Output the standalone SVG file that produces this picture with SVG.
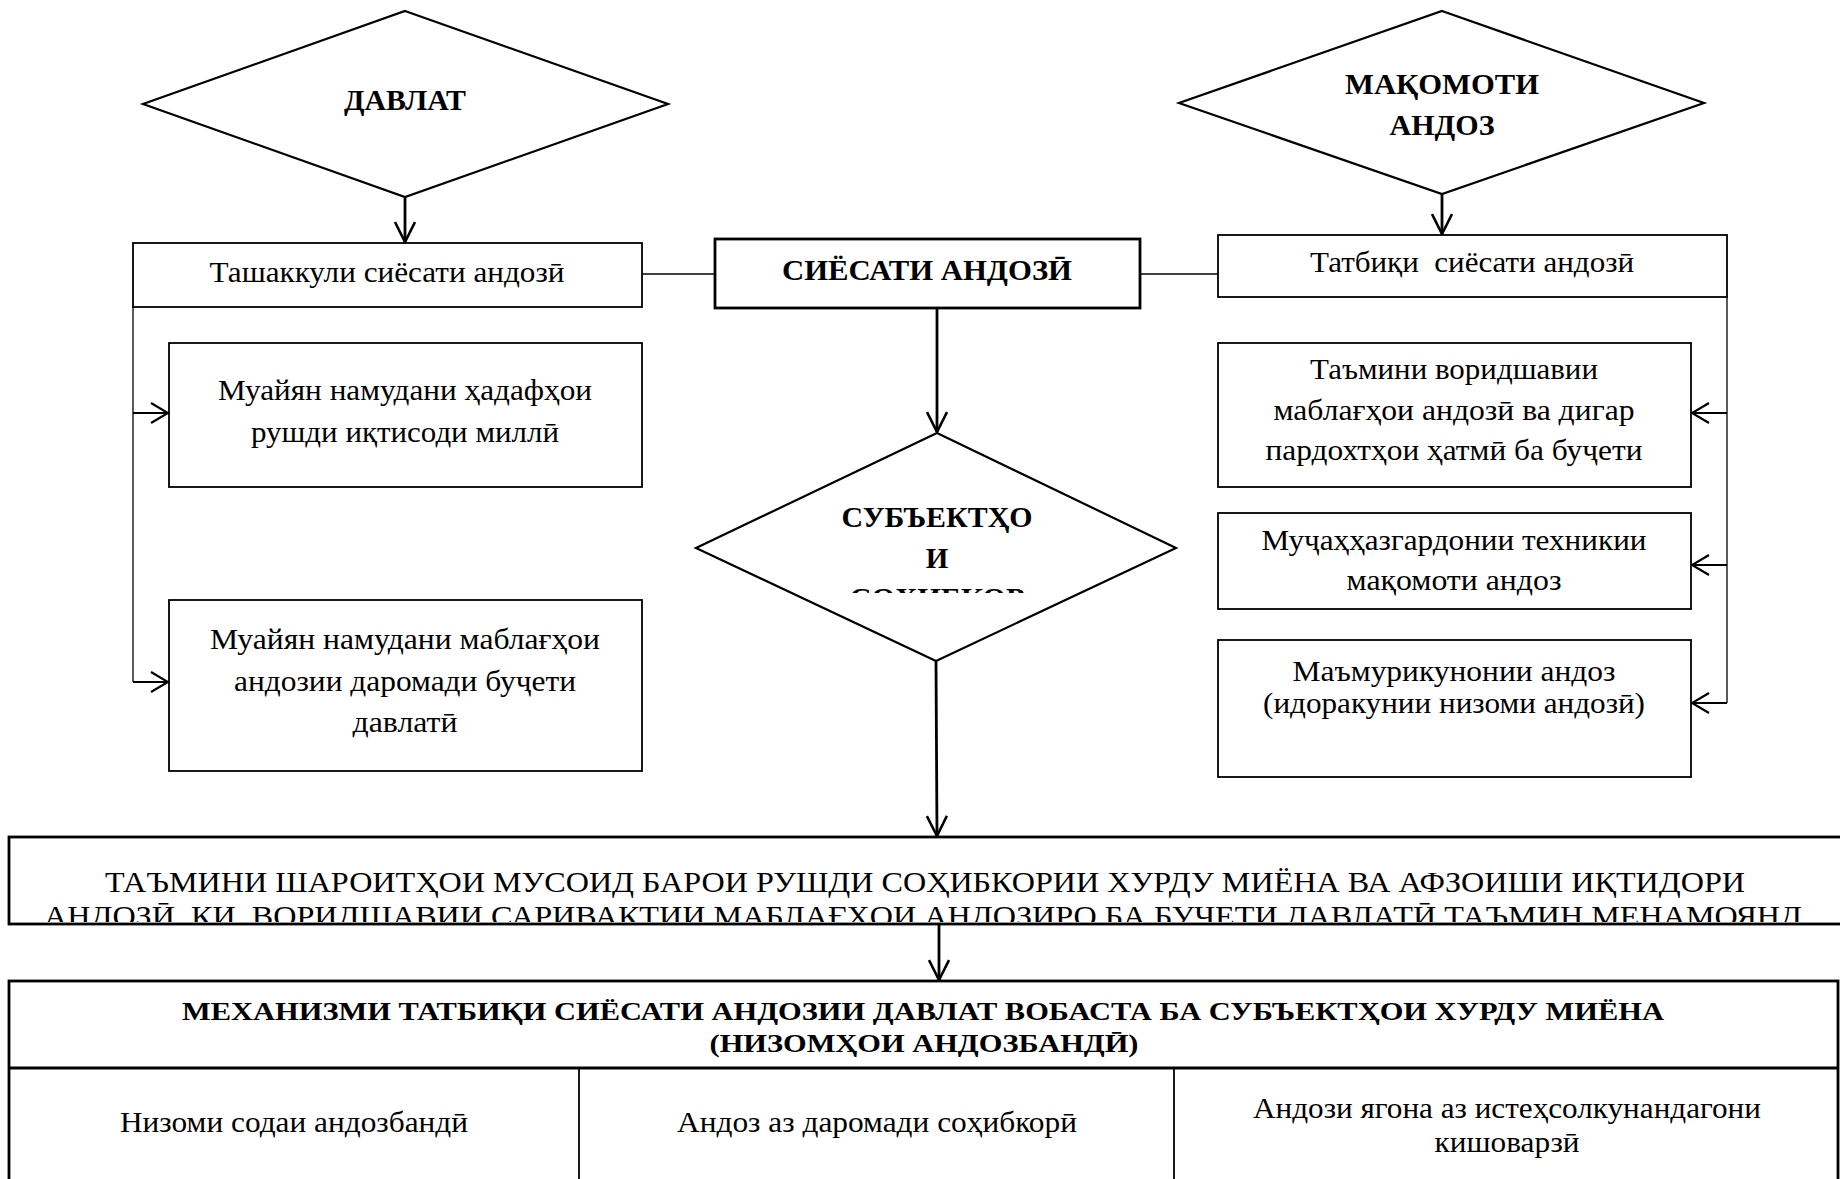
<svg xmlns="http://www.w3.org/2000/svg" width="1840" height="1179" viewBox="0 0 1840 1179">
<style>
text{font-family:"Liberation Serif","Times New Roman",serif;font-size:29px;fill:#000;text-anchor:middle}
.b{font-weight:bold}
.box{fill:#fff;stroke:#000;stroke-width:1.8}
.thick{fill:#fff;stroke:#000;stroke-width:2.8}
.dia{fill:#fff;stroke:#000;stroke-width:2.2}
.thin{fill:none;stroke:#000;stroke-width:1.3}
.arr{fill:none;stroke:#000;stroke-width:2.8}
.side{fill:none;stroke:#000;stroke-width:2}
</style>
<defs>
<marker id="big" viewBox="0 0 22 22" refX="21" refY="11" markerWidth="22" markerHeight="22" markerUnits="userSpaceOnUse" orient="auto">
<path d="M1,1 L21,11 L1,21" fill="none" stroke="#000" stroke-width="2.6"/>
</marker>
<marker id="sm" viewBox="0 0 20 22" refX="18" refY="11" markerWidth="20" markerHeight="22" markerUnits="userSpaceOnUse" orient="auto">
<path d="M1,1 L18,11 L1,21" fill="none" stroke="#000" stroke-width="2.2"/>
</marker>
<clipPath id="cDia"><rect x="696" y="433" width="480" height="160"/></clipPath>
<clipPath id="cWide"><rect x="9" y="837" width="1831" height="85"/></clipPath>
</defs>

<g id="connectors">
<line class="arr" x1="405" y1="197" x2="405" y2="242" marker-end="url(#big)"/>
<line class="arr" x1="1442" y1="194" x2="1442" y2="234" marker-end="url(#big)"/>
<line class="thin" x1="642" y1="274" x2="715" y2="274"/>
<line class="thin" x1="1140" y1="274" x2="1218" y2="274"/>
<line class="arr" x1="937" y1="308" x2="937" y2="432" marker-end="url(#big)"/>
<line class="arr" x1="936" y1="661" x2="937" y2="836" marker-end="url(#big)"/>
<line class="arr" x1="939" y1="924" x2="939" y2="980" marker-end="url(#big)"/>
<polyline class="thin" points="133,307 133,682"/>
<line class="side" x1="133" y1="413" x2="168" y2="413" marker-end="url(#sm)"/>
<line class="side" x1="133" y1="682" x2="168" y2="682" marker-end="url(#sm)"/>
<polyline class="thin" points="1727,297 1727,703"/>
<line class="side" x1="1727" y1="413" x2="1692" y2="413" marker-end="url(#sm)"/>
<line class="side" x1="1727" y1="565" x2="1692" y2="565" marker-end="url(#sm)"/>
<line class="side" x1="1727" y1="703" x2="1692" y2="703" marker-end="url(#sm)"/>
</g>

<g id="davlat">
<polygon class="dia" points="405,11 668,104 405,197 143,104"/>
<text class="b" x="405" y="110" textLength="122" lengthAdjust="spacingAndGlyphs">ДАВЛАТ</text>
</g>

<g id="maqomoti">
<polygon class="dia" points="1442,11 1704,103 1442,194 1179,103"/>
<text class="b" x="1442" y="94" textLength="194" lengthAdjust="spacingAndGlyphs">МАҚОМОТИ</text>
<text class="b" x="1442" y="135" textLength="105" lengthAdjust="spacingAndGlyphs">АНДОЗ</text>
</g>

<g id="tashakkul">
<rect class="box" x="133" y="243" width="509" height="64"/>
<text x="387" y="282" textLength="355" lengthAdjust="spacingAndGlyphs">Ташаккули сиёсати андозӣ</text>
</g>

<g id="siyosat">
<rect class="thick" x="715" y="239" width="425" height="69"/>
<text class="b" x="927" y="280" textLength="290" lengthAdjust="spacingAndGlyphs">СИЁСАТИ АНДОЗӢ</text>
</g>

<g id="tatbiq">
<rect class="box" x="1218" y="235" width="509" height="62"/>
<text x="1472" y="272" textLength="324" lengthAdjust="spacingAndGlyphs" xml:space="preserve">Татбиқи  сиёсати андозӣ</text>
</g>

<g id="hadaf">
<rect class="box" x="169" y="343" width="473" height="144"/>
<text x="405" y="400" textLength="374" lengthAdjust="spacingAndGlyphs">Муайян намудани ҳадафҳои</text>
<text x="405" y="442" textLength="308" lengthAdjust="spacingAndGlyphs">рушди иқтисоди миллӣ</text>
</g>

<g id="mablagh">
<rect class="box" x="169" y="600" width="473" height="171"/>
<text x="405" y="649" textLength="390" lengthAdjust="spacingAndGlyphs">Муайян намудани маблағҳои</text>
<text x="405" y="691" textLength="342" lengthAdjust="spacingAndGlyphs">андозии даромади буҷети</text>
<text x="405" y="732" textLength="105" lengthAdjust="spacingAndGlyphs">давлатӣ</text>
</g>

<g id="subyekt">
<polygon class="dia" points="937,433 1176,548 936,661 696,548"/>
<text class="b" x="937" y="527" textLength="191" lengthAdjust="spacingAndGlyphs">СУБЪЕКТҲО</text>
<text class="b" x="937" y="568">И</text>
<g clip-path="url(#cDia)"><text class="b" x="937" y="608" textLength="175" lengthAdjust="spacingAndGlyphs">СОҲИБКОР</text></g>
</g>

<g id="taminivorid">
<rect class="box" x="1218" y="343" width="473" height="144"/>
<text x="1454" y="379" textLength="288" lengthAdjust="spacingAndGlyphs">Таъмини воридшавии</text>
<text x="1454" y="420" textLength="361" lengthAdjust="spacingAndGlyphs">маблағҳои андозӣ ва дигар</text>
<text x="1454" y="460" textLength="377" lengthAdjust="spacingAndGlyphs">пардохтҳои ҳатмӣ ба буҷети</text>
</g>

<g id="mujahhaz">
<rect class="box" x="1218" y="513" width="473" height="96"/>
<text x="1454" y="550" textLength="385" lengthAdjust="spacingAndGlyphs">Муҷаҳҳазгардонии техникии</text>
<text x="1454" y="590" textLength="215" lengthAdjust="spacingAndGlyphs">мақомоти андоз</text>
</g>

<g id="mamuri">
<rect class="box" x="1218" y="640" width="473" height="137"/>
<text x="1454" y="681" textLength="323" lengthAdjust="spacingAndGlyphs">Маъмурикунонии андоз</text>
<text x="1454" y="713" textLength="382" lengthAdjust="spacingAndGlyphs">(идоракунии низоми андозӣ)</text>
</g>

<g id="sharoit">
<rect class="thick" x="9" y="837" width="1840" height="87"/>
<g clip-path="url(#cWide)">
<text x="925" y="892" textLength="1640" lengthAdjust="spacingAndGlyphs">ТАЪМИНИ ШАРОИТҲОИ МУСОИД БАРОИ РУШДИ СОҲИБКОРИИ ХУРДУ МИЁНА ВА АФЗОИШИ ИҚТИДОРИ</text>
<text x="923" y="926" textLength="1758" lengthAdjust="spacingAndGlyphs" xml:space="preserve">АНДОЗӢ, КИ  ВОРИДШАВИИ САРИВАҚТИИ МАБЛАҒҲОИ АНДОЗИРО БА БУҶЕТИ ДАВЛАТӢ ТАЪМИН МЕНАМОЯНД</text>
</g>
</g>

<g id="mexanizm">
<rect class="thick" x="9" y="981" width="1829" height="220"/>
<line x1="9" y1="1068" x2="1838" y2="1068" stroke="#000" stroke-width="3"/>
<line x1="579" y1="1068" x2="579" y2="1179" stroke="#000" stroke-width="1.8"/>
<line x1="1174" y1="1068" x2="1174" y2="1179" stroke="#000" stroke-width="1.8"/>
<text class="b" x="923" y="1020" style="font-size:26px" textLength="1482" lengthAdjust="spacingAndGlyphs">МЕХАНИЗМИ ТАТБИҚИ СИЁСАТИ АНДОЗИИ ДАВЛАТ ВОБАСТА БА СУБЪЕКТҲОИ ХУРДУ МИЁНА</text>
<text class="b" x="924" y="1052" style="font-size:26px" textLength="429" lengthAdjust="spacingAndGlyphs">(НИЗОМҲОИ АНДОЗБАНДӢ)</text>
<text x="294" y="1132" textLength="348" lengthAdjust="spacingAndGlyphs">Низоми содаи андозбандӣ</text>
<text x="877" y="1132" textLength="400" lengthAdjust="spacingAndGlyphs">Андоз аз даромади соҳибкорӣ</text>
<text x="1507" y="1118" textLength="508" lengthAdjust="spacingAndGlyphs">Андози ягона аз истеҳсолкунандагони</text>
<text x="1507" y="1152" textLength="145" lengthAdjust="spacingAndGlyphs">кишоварзӣ</text>
</g>
</svg>
